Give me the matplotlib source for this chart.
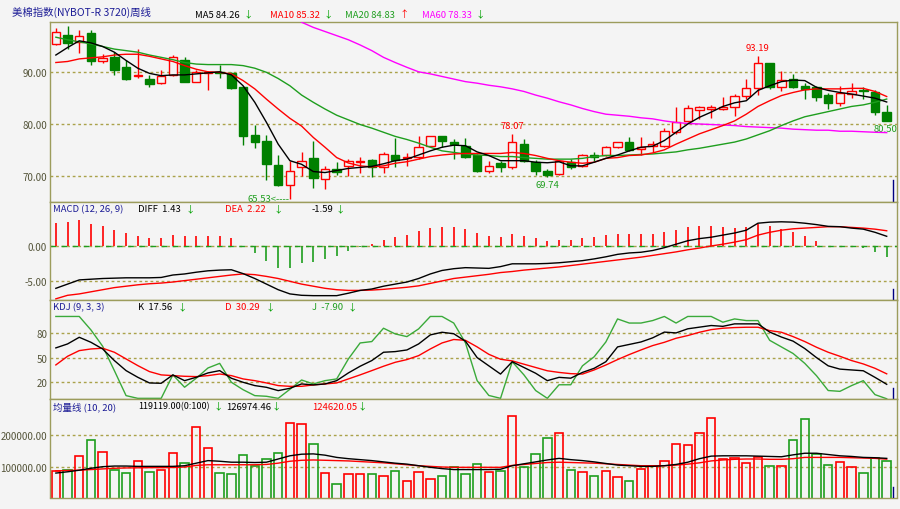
import matplotlib
matplotlib.use("Agg")
import matplotlib.pyplot as plt
import numpy as np

plt.rcParams['font.family'] = ['Noto Sans CJK SC', 'DejaVu Sans']

# ---- weekly candles ----
opens = [95.5, 97.2, 95.9, 97.7, 92.1, 93.0, 91.1, 89.2, 88.7, 87.9, 89.5, 92.3, 88.2, 89.9, 90.1, 89.8,
         87.2, 77.9, 76.7, 72.1, 68.1, 71.6, 73.35, 69.4, 71.2, 71.9, 72.6, 73.1, 71.6, 74.0, 73.35, 73.7,
         75.7, 77.6, 76.6, 75.8, 74.0, 71.0, 72.45, 71.6, 76.1, 72.7, 71.0, 70.3, 72.7, 71.9, 74.0, 74.0,
         75.5, 76.5, 75.2, 75.7, 75.7, 78.4, 80.5, 82.8, 82.9, 83.0, 83.2, 85.5, 86.9, 91.9, 87.2, 88.7,
         87.4, 87.1, 85.6, 84.1, 85.8, 86.6, 86.1, 82.4]
highs = [98.5, 99.0, 98.1, 98.1, 93.5, 93.9, 92.3, 94.6, 89.4, 90.45, 93.35, 93.0, 90.5, 90.3, 91.4, 90.0,
         87.4, 79.9, 77.9, 74.0, 72.9, 74.5, 76.8, 71.9, 72.7, 73.2, 73.7, 73.2, 74.6, 77.3, 74.4, 77.6,
         77.7, 77.7, 77.0, 77.2, 74.1, 72.9, 72.9, 78.07, 77.0, 73.1, 71.3, 73.1, 73.2, 74.2, 74.6, 75.8,
         76.6, 77.4, 77.4, 76.8, 79.2, 83.2, 83.7, 83.4, 83.7, 85.2, 85.8, 88.7, 93.19, 91.9, 90.3, 89.7,
         87.9, 87.4, 86.0, 87.3, 87.9, 87.1, 86.6, 83.7]
lows = [95.3, 94.5, 93.7, 91.4, 91.9, 89.5, 88.5, 89.0, 87.2, 87.7, 89.35, 88.1, 88.1, 86.5, 89.0, 86.8,
        75.9, 75.4, 69.2, 68.0, 65.53, 70.0, 67.7, 67.4, 70.1, 70.0, 70.6, 69.7, 70.5, 71.6, 71.9, 73.2,
        75.5, 75.6, 73.2, 73.35, 70.8, 70.6, 70.8, 71.3, 72.6, 70.1, 69.74, 70.1, 71.3, 71.6, 72.9, 73.9,
        75.3, 74.8, 74.0, 74.6, 75.5, 78.1, 80.3, 81.0, 81.1, 82.8, 81.6, 84.8, 85.6, 86.8, 86.3, 86.9,
        84.8, 84.5, 83.0, 83.4, 85.0, 84.8, 81.7, 80.5]
closes = [97.9, 95.7, 97.0, 92.1, 92.7, 90.45, 88.7, 89.5, 87.7, 89.35, 92.9, 88.2, 90.0, 90.0, 89.9, 86.9,
          77.7, 76.6, 72.3, 68.1, 71.0, 72.9, 69.5, 71.3, 70.8, 72.9, 72.9, 71.6, 74.2, 73.0, 73.7, 75.5,
          77.6, 76.8, 76.1, 73.55, 71.0, 71.9, 71.6, 76.5, 72.9, 71.0, 70.2, 72.9, 71.6, 74.0, 73.7, 75.5,
          76.5, 75.0, 75.5, 76.1, 78.6, 80.3, 83.1, 83.2, 83.2, 83.35, 85.5, 86.9, 91.9, 87.1, 88.6, 87.2,
          86.8, 85.2, 84.1, 86.0, 86.3, 86.3, 82.4, 80.55]

ma5 = [93.35, 94.8, 96.1, 95.7, 95.0, 93.9, 92.3, 90.8, 89.8, 89.35, 89.5, 89.5, 89.7, 89.9, 90.1, 89.5,
       87.4, 84.2, 80.3, 76.1, 72.9, 72.2, 70.8, 70.6, 71.0, 71.4, 71.6, 71.8, 72.3, 72.9, 73.2, 74.0,
       74.8, 75.5, 75.9, 75.8, 74.6, 73.9, 72.9, 72.9, 72.9, 72.6, 72.5, 72.7, 71.9, 71.9, 72.6, 73.35,
       74.0, 74.8, 75.5, 75.7, 76.8, 78.4, 80.0, 81.3, 82.3, 83.4, 84.1, 84.5, 86.5, 87.4, 88.2, 88.5,
       88.4, 87.1, 86.5, 86.1, 85.8, 85.4, 85.0, 84.26]
ma10 = [91.9, 92.1, 92.6, 92.8, 93.0, 93.35, 93.5, 93.5, 93.1, 92.6, 92.1, 91.3, 90.6, 90.1, 90.0, 89.7,
        88.4, 86.8, 84.8, 82.9, 81.1, 79.6, 77.4, 75.5, 73.5, 72.45, 71.9, 71.7, 71.9, 72.4, 72.7, 73.2,
        73.7, 74.0, 74.2, 74.3, 74.3, 74.3, 74.3, 74.5, 74.3, 73.9, 73.35, 72.9, 72.6, 72.4, 72.6, 73.35,
        73.5, 73.9, 74.0, 74.4, 75.0, 76.1, 77.1, 78.1, 78.9, 79.7, 80.6, 81.9, 83.4, 84.5, 85.5, 86.1,
        86.6, 86.8, 86.8, 86.8, 86.9, 86.9, 86.3, 85.32]
ma20 = [96.8, 96.3, 95.9, 95.5, 95.0, 94.5, 94.2, 93.9, 93.35, 92.9, 92.45, 91.9, 91.6, 91.5, 91.5, 91.5,
        91.3, 90.8, 90.0, 88.8, 87.4, 85.6, 84.2, 82.9, 81.7, 80.8, 79.9, 79.2, 78.4, 77.6, 77.0, 76.3,
        75.5, 74.8, 74.5, 74.2, 74.0, 73.9, 73.7, 73.7, 73.5, 73.35, 73.2, 73.2, 73.2, 73.35, 73.7, 73.9,
        73.9, 74.0, 74.1, 74.2, 74.4, 74.6, 75.0, 75.3, 75.7, 76.1, 76.5, 77.1, 77.9, 78.7, 79.7, 80.6,
        81.4, 81.9, 82.4, 82.9, 83.4, 83.7, 84.2, 84.83]
ma60 = [np.nan] * 21 + [
        99.7, 98.7, 97.9, 97.1, 96.3, 95.3, 94.2, 92.9, 91.9, 90.97, 90.1, 89.7, 89.2, 88.7, 88.2, 87.9,
        87.5, 87.2, 86.8, 86.3, 85.6, 85.0, 84.3, 83.7, 83.0, 82.4, 81.9, 81.7, 81.5, 81.2, 81.0, 80.6,
        80.3, 80.1, 80.0, 79.9, 79.8, 79.7, 79.5, 79.4, 79.3, 79.2, 79.0, 78.9, 78.8, 78.8, 78.6, 78.6,
        78.5, 78.4, 78.33]

# ---- MACD ----
diff = [-6.0, -5.4, -4.8, -4.7, -4.6, -4.55, -4.5, -4.5, -4.5, -4.45, -4.1, -3.95, -3.7, -3.5, -3.4, -3.35,
        -3.9, -4.6, -5.4, -6.2, -6.8, -7.0, -7.05, -7.05, -7.05, -6.7, -6.3, -6.1, -5.7, -5.4, -5.1, -4.6,
        -3.95, -3.45, -3.2, -3.05, -3.1, -3.15, -2.9, -2.5, -2.5, -2.5, -2.45, -2.35, -2.2, -2.05, -1.8, -1.5,
        -1.15, -0.95, -0.85, -0.6, -0.2, 0.3, 0.8, 1.1, 1.3, 1.6, 1.9, 2.3, 3.3, 3.45, 3.5, 3.45,
        3.3, 3.1, 2.85, 2.8, 2.6, 2.45, 2.0, 1.43]
dea = [-7.5, -7.0, -6.8, -6.5, -6.2, -5.9, -5.7, -5.5, -5.35, -5.25, -5.1, -4.9, -4.7, -4.5, -4.3, -4.1,
       -3.95, -4.05, -4.3, -4.6, -5.0, -5.4, -5.7, -6.0, -6.2, -6.3, -6.3, -6.25, -6.15, -6.0, -5.85, -5.65,
       -5.3, -4.95, -4.6, -4.4, -4.2, -4.0, -3.75, -3.6, -3.4, -3.25, -3.1, -2.95, -2.75, -2.55, -2.35, -2.15,
       -1.95, -1.75, -1.55, -1.3, -1.05, -0.8, -0.5, -0.25, 0.05, 0.3, 0.6, 0.95, 1.6, 2.0, 2.3, 2.5,
       2.6, 2.7, 2.8, 2.8, 2.7, 2.6, 2.45, 2.22]
macd_hist = [3.33, 3.43, 3.81, 3.19, 2.86, 2.38, 1.86, 1.52, 1.19, 1.19, 1.67, 1.43, 1.43, 1.43, 1.43, 1.19,
             0.1, -1.0, -2.14, -3.1, -3.1, -2.43, -2.29, -1.81, -1.33, -0.62, -0.14, 0.33, 0.9, 1.29, 1.67, 2.14,
             2.57, 2.81, 2.81, 2.48, 1.9, 1.52, 1.29, 1.76, 1.52, 1.14, 0.81, 0.95, 0.95, 1.19, 1.29, 1.67,
             1.81, 1.81, 1.81, 1.81, 2.0, 2.33, 2.71, 2.86, 2.86, 2.71, 2.57, 2.71, 3.19, 2.86, 2.48, 2.0,
             1.43, 0.71, 0.08, 0.03, -0.08, -0.29, -0.86, -1.59]

# ---- KDJ ----
k_line = [61.8, 66.6, 74.7, 68.6, 60.5, 46.4, 34.2, 26.1, 19.2, 18.8, 29.0, 22.0, 26.1, 31.4, 34.2, 24.9,
          20.0, 16.0, 13.9, 9.9, 12.7, 18.0, 16.8, 18.0, 22.0, 31.4, 39.5, 46.4, 56.5, 57.3, 59.3, 66.6,
          77.6, 80.8, 79.0, 70.0, 50.0, 40.0, 30.0, 45.0, 38.0, 31.0, 22.0, 26.0, 25.0, 32.0, 37.0, 45.0,
          63.0, 66.0, 69.0, 74.0, 81.0, 80.0, 85.0, 87.0, 89.0, 88.0, 91.0, 91.0, 91.0, 81.0, 75.0, 70.0,
          61.0, 50.0, 40.0, 36.0, 35.0, 34.0, 26.0, 17.56]
d_line = [41.1, 51.6, 58.5, 60.5, 61.4, 56.5, 48.4, 40.3, 33.0, 29.0, 28.1, 27.3, 26.9, 28.1, 30.1, 28.1,
          24.1, 22.0, 19.2, 16.0, 15.1, 15.1, 16.8, 18.0, 19.2, 24.1, 29.0, 34.2, 39.5, 44.3, 47.6, 52.4,
          60.5, 67.8, 72.0, 71.0, 63.0, 54.0, 48.0, 46.0, 42.0, 38.0, 34.0, 32.0, 30.5, 30.0, 35.0, 41.0,
          47.6, 53.7, 59.3, 64.6, 68.6, 73.5, 76.8, 80.8, 84.0, 85.7, 86.5, 86.9, 86.9, 82.8, 80.8, 75.5,
          69.5, 62.6, 56.5, 51.6, 46.4, 42.3, 37.0, 30.29]
j_line = [100, 100, 100, 83.6, 63.8, 34.2, 3.8, 0.5, 0.5, 0.5, 29.0, 14.0, 25.0, 37.4, 43.0, 20.0,
          11.0, 3.8, 3.0, 0.5, 11.5, 22.8, 18.0, 22.0, 24.1, 48.4, 67.8, 69.5, 85.7, 78.8, 75.5, 84.9,
          100, 100, 92, 68, 22, 4, 0.5, 45, 29, 10, 0.5, 17, 17, 40, 51, 69,
          97, 92, 92, 95, 100, 92, 100, 100, 100, 93, 97, 95, 95, 71, 63, 55,
          43, 28, 10, 9, 16, 22, 5, 0]

# ---- volume ----
volume = [88500, 91700, 135400, 185400, 147900, 90600, 80200, 117700, 85400, 90600, 142700, 111500,
          224000, 159400, 81250, 78000, 137500, 103000, 125000, 143750, 236500, 234400, 171900, 81250,
          46900, 78100, 78100, 78100, 72900, 86500, 57300, 83300, 62500, 70800, 99000, 77100,
          108300, 83300, 86500, 258300, 99000, 139600, 190600, 206300, 90600, 83300, 71900, 87500,
          69800, 56300, 92700, 102100, 117700, 172900, 167700, 207300, 252100, 126000, 129200, 113500,
          132300, 102100, 102100, 183300, 250000, 140600, 105200, 114600, 100000, 80200, 127100, 119119]
vol_ma10 = [81000, 85000, 90000, 96000, 101000, 103000, 103000, 102000, 102000, 102000, 102000, 104000,
            112000, 120000, 118000, 115000, 115000, 114000, 115000, 125000, 135000, 140000, 141000, 137000,
            130000, 126000, 123000, 120000, 116000, 112000, 109000, 104000, 99000, 95000, 92000, 92000,
            92000, 92000, 93000, 104000, 110000, 116000, 122000, 127000, 123000, 120000, 116000, 111000,
            106000, 104000, 102000, 102000, 104000, 108000, 115000, 126000, 134000, 135000, 135000, 135000,
            134000, 133000, 132000, 138000, 143000, 143000, 139000, 135000, 133000, 130000, 129000, 126974]
vol_ma20 = [88000, 89000, 90000, 92000, 94000, 96000, 97000, 97500, 98000, 98000, 98500, 100000,
            105000, 107000, 107000, 107000, 107000, 107000, 108000, 112000, 118000, 121000, 122000, 121000,
            120000, 119000, 117000, 115000, 113000, 110000, 107000, 104000, 102000, 100000, 99000, 99000,
            99000, 99000, 99000, 105000, 108000, 111000, 114000, 115000, 114000, 113000, 112000, 110000,
            108000, 106000, 104000, 104000, 104000, 106000, 109000, 113000, 119000, 122000, 124000, 125000,
            125000, 124000, 124000, 126000, 130000, 130000, 130000, 130000, 129000, 128000, 127000, 124620]

BG = "#f4f4f4"
BORDER = "#9c9c5c"
GRID = "#aaa24a"
RED = "#ff0000"
GREEN = "#008000"
LGREEN = "#1e9e1e"
JGREEN = "#3aaa3a"
BLUE = "#1c1c96"
TICK = "#55553a"
W, H = 900, 510

fig = plt.figure(figsize=(W / 100, H / 100), dpi=100)
fig.patch.set_facecolor(BG)


def panel(top, bottom):
    ax = fig.add_axes([50 / W, 1 - bottom / H, 847 / W, (bottom - top) / H])
    ax.set_facecolor(BG)
    for s in ax.spines.values():
        s.set_color(BORDER)
        s.set_linewidth(1)
    ax.set_xlim(-0.5, 71.88)
    ax.set_xticks([])
    ax.tick_params(axis="y", length=0, labelsize=7, colors=TICK, pad=2)
    return ax


def grid(ax, vals, fmt):
    for v in vals:
        ax.axhline(v, color=GRID, lw=1, ls=(0, (2, 2)), zorder=1)
    ax.set_yticks(vals)
    ax.set_yticklabels([fmt.format(v) for v in vals])


def cursor(ax, frac):
    ax.axvline(71.5, ymin=0, ymax=frac, color="#000080", lw=1, zorder=6)


def ftext(x, y, s, color, size=6.8):
    fig.text(x / W, 1 - y / H, s, color=color, fontsize=size, va="center", ha="left")


x = np.arange(len(closes))

# ---- price panel ----
ax1 = panel(22.7, 202.5)
ax1.set_ylim(65.0, 99.8)
grid(ax1, [70, 80, 90], "{:.2f}")
for i in x:
    o, h, l, c = opens[i], highs[i], lows[i], closes[i]
    up = c >= o
    col = RED if up else GREEN
    ax1.vlines(i, l, h, color=col, lw=1, zorder=2)
    ax1.bar(i, max(abs(c - o), 0.12), bottom=min(o, c), width=0.72,
            facecolor=BG if up else GREEN, edgecolor=col, lw=1, zorder=3)
ax1.plot(x, ma60, color="#ff00ff", lw=1, zorder=4)
ax1.plot(x, ma20, color=LGREEN, lw=1, zorder=4)
ax1.plot(x, ma10, color=RED, lw=1, zorder=4)
ax1.plot(x, ma5, color="#000000", lw=1, zorder=5)
cursor(ax1, 0.12)

hi_i = int(np.argmax(highs[30:])) + 30
ax1.annotate("{:.2f}".format(highs[hi_i]), (hi_i, highs[hi_i]), xytext=(0, 3), textcoords="offset points",
             ha="center", va="bottom", color=RED, fontsize=6.8)
ax1.annotate("{:.2f}".format(highs[39]), (39, highs[39]), xytext=(0, 3), textcoords="offset points",
             ha="center", va="bottom", color=RED, fontsize=6.8)
ax1.annotate("{:.2f}<----".format(lows[20]), (20, lows[20]), xytext=(0, 0), textcoords="offset points",
             ha="right", va="center", color=LGREEN, fontsize=6.8)
ax1.annotate("{:.2f}".format(lows[42]), (42, lows[42]), xytext=(0, -2), textcoords="offset points",
             ha="center", va="top", color=LGREEN, fontsize=6.8)
ax1.annotate("{:.2f}".format(lows[71]), (71, lows[71]), xytext=(-1, -2), textcoords="offset points",
             ha="center", va="top", color=LGREEN, fontsize=6.8)

# ---- MACD panel ----
ax2 = panel(202.5, 301)
ax2.set_ylim(-7.67, 6.4)
grid(ax2, [0, -5], "{:.2f}")
ax2.axhline(0, color=LGREEN, lw=1, ls=(0, (4, 4)), zorder=1)
hist = np.array(macd_hist)
ax2.vlines(x[hist >= 0], 0, hist[hist >= 0], color=RED, lw=1.2, zorder=2)
ax2.vlines(x[hist < 0], 0, hist[hist < 0], color=LGREEN, lw=1.2, zorder=2)
ax2.plot(x, dea, color=RED, lw=1, zorder=3)
ax2.plot(x, diff, color="#000000", lw=1, zorder=4)
cursor(ax2, 0.11)

# ---- KDJ panel ----
ax3 = panel(301, 400)
ax3.set_ylim(-0.3, 120)
grid(ax3, [80, 50, 20], "{:.0f}")
ax3.plot(x, j_line, color=JGREEN, lw=1, zorder=2)
ax3.plot(x, d_line, color=RED, lw=1, zorder=3)
ax3.plot(x, k_line, color="#000000", lw=1, zorder=4)
cursor(ax3, 0.11)

# ---- volume panel ----
ax4 = panel(400, 498.5)
ax4.set_ylim(4700, 312500)
grid(ax4, [200000, 100000], "{:.2f}")
for i in x:
    col = RED if closes[i] >= opens[i] else LGREEN
    ax4.bar(i, volume[i], width=0.72, facecolor="none", edgecolor=col, lw=1.2, zorder=2)
ax4.plot(x, vol_ma20, color=RED, lw=1, zorder=3)
ax4.plot(x, vol_ma10, color="#000000", lw=1, zorder=4)
cursor(ax4, 0.11)

# ---- header texts ----
DOWN, UP = "\u2193", "\u2191"
AG, AR = "#00a000", RED
ftext(12, 12, "美棉指数(NYBOT-R 3720)周线", BLUE, 7.5)
ftext(195, 15, "MA5 {:.2f}".format(ma5[-1]), "#000000")
ftext(243, 15, DOWN, AG)
ftext(270, 15, "MA10 {:.2f}".format(ma10[-1]), RED)
ftext(323, 15, DOWN, AG)
ftext(345, 15, "MA20 {:.2f}".format(ma20[-1]), LGREEN)
ftext(400, 15, UP, AR)
ftext(422, 15, "MA60 {:.2f}".format(ma60[-1]), "#ff00ff")
ftext(475, 15, DOWN, AG)

ftext(53, 210, "MACD (12, 26, 9)", BLUE)
ftext(138, 210, "DIFF  {:.2f}".format(diff[-1]), "#000000")
ftext(186, 210, DOWN, AG)
ftext(225, 210, "DEA  {:.2f}".format(dea[-1]), RED)
ftext(273, 210, DOWN, AG)
ftext(312, 210, "{:.2f}".format(macd_hist[-1]), "#000000")
ftext(336, 210, DOWN, AG)

ftext(53, 308, "KDJ (9, 3, 3)", BLUE)
ftext(138, 308, "K  {:.2f}".format(k_line[-1]), "#000000")
ftext(178, 308, DOWN, AG)
ftext(225, 308, "D  {:.2f}".format(d_line[-1]), RED)
ftext(266, 308, DOWN, AG)
ftext(312, 308, "J  -7.90", LGREEN)
ftext(348, 308, DOWN, AG)

ftext(53, 407, "均量线 (10, 20)", BLUE)
ftext(138, 407, "{:.2f}(0:100)".format(volume[-1]), "#000000", 6.5)
ftext(214, 407, DOWN, AG)
ftext(226, 407, "{:.2f}".format(126974.46), "#000000")
ftext(271, 407, DOWN, AG)
ftext(312, 407, "{:.2f}".format(124620.05), RED)
ftext(358, 407, DOWN, AG)

fig.savefig("out.png", dpi=100, facecolor=BG)
